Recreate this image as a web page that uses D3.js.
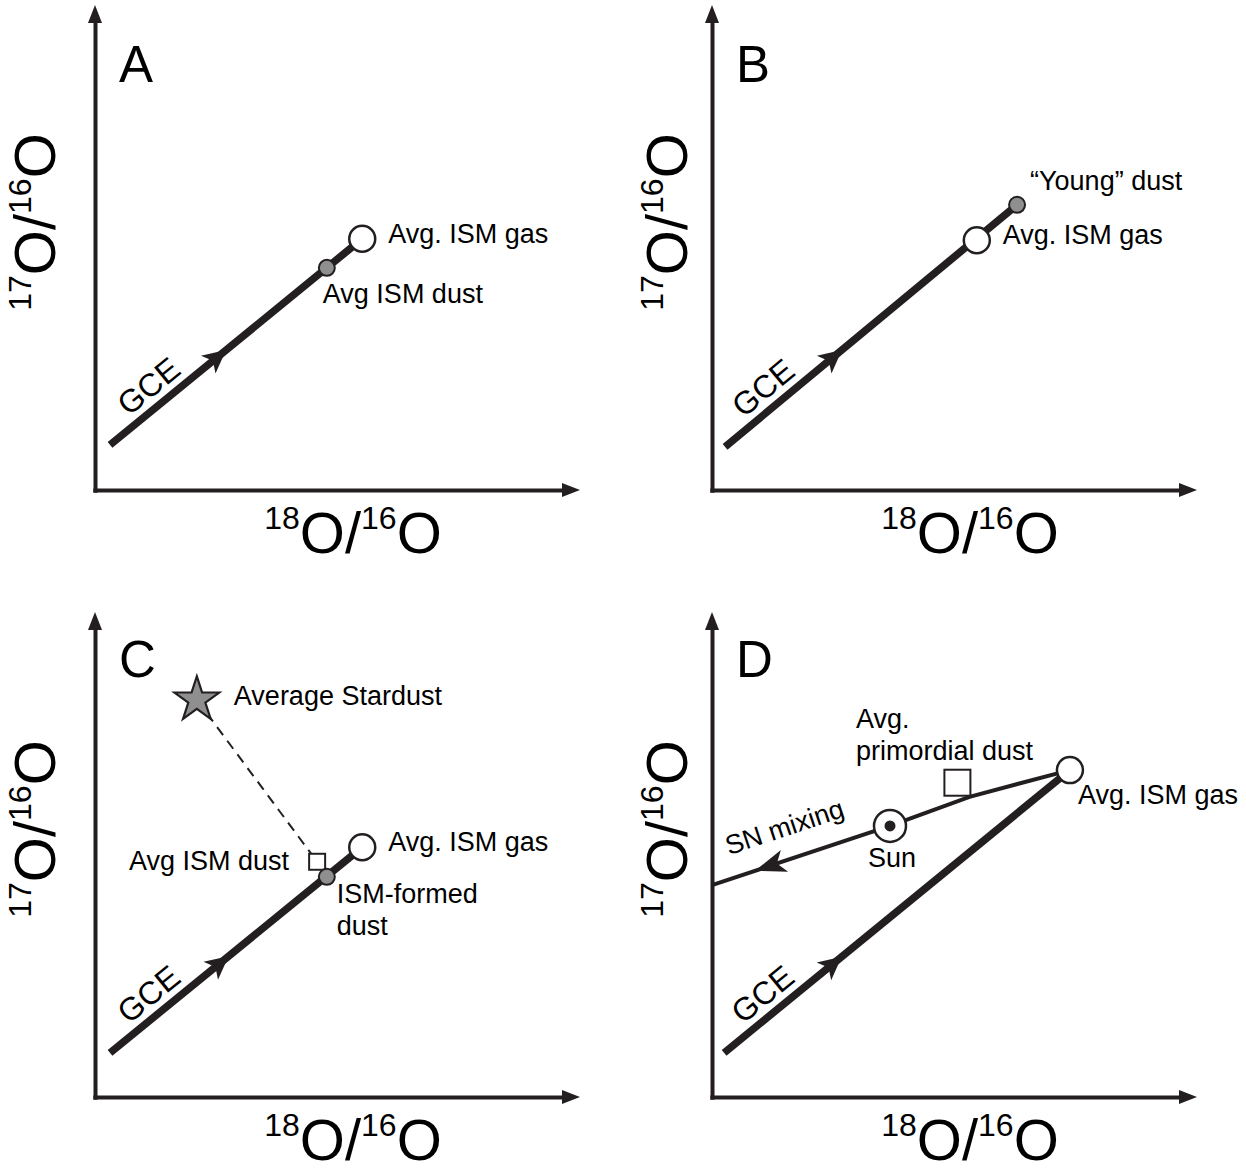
<!DOCTYPE html>
<html><head><meta charset="utf-8">
<script src="https://cdn.jsdelivr.net/npm/d3@7"></script>
<style>
body{margin:0;background:#fff}
svg{display:block}
text{font-family:"Liberation Sans",Arial,Helvetica,sans-serif;fill:#000}
</style>
</head><body>
<svg id="c" width="1246" height="1171"></svg>
<script>
// ---------- data (schematic units, 0..100 on each axis) ----------
const panelLetters = ["A", "B", "C", "D"];
const xTitleParts = ["18", "O/", "16", "O"];
const yTitleParts = ["17", "O/", "16", "O"];

const gceStart = [[3.1, 9.3], [2.7, 8.9], [3.1, 9.1], [2.5, 9.1]];
const gceEnd = [[55.1, 51.8], [62.9, 58.8], [55.1, 51.5], [73.8, 67.4]];
const gceArrowFrac = [0.46, 0.40, 0.47, 0.34];

const ismGas = [[55.1, 51.8], [54.6, 51.5], [55.1, 51.5], [73.8, 67.4]];
const gasLabels = ["Avg. ISM gas", "Avg. ISM gas", "Avg. ISM gas", "Avg. ISM gas"];

const dustPanels = [0, 1, 2];
const dustPoints = [[47.8, 45.8], [62.9, 58.8], [47.8, 45.4]];
const dustLabels = [["Avg ISM dust"], ["\u201cYoung\u201d dust"], ["ISM-formed", "dust"]];

const squarePanels = [2, 3];
const squarePoints = [[45.8, 48.5], [50.6, 64.8]];
const squareLabels = [["Avg ISM dust"], ["Avg.", "primordial dust"]];

const stardust = [21.0, 81.9];
const stardustLabel = "Average Stardust";

const sunPoint = [36.7, 55.9];
const sunLabel = "Sun";
const snMixing = [[73.8, 67.4], [53.1, 61.9], [36.7, 55.9], [0, 43.7]];
const snArrowFrac = 0.758;
const snLabel = "SN mixing";
const gceLabel = "GCE";

// ---------- layout ----------
const origins = [[95, 490], [712, 490], [95, 1097], [712, 1097]];
const yTitleGap = [40, 25, 40, 25];
const ink = "#231f20";
const grey = "#8f8f8f";
const svg = d3.select("#c");

function isoTitle(t, parts) {
  t.append("tspan").attr("font-size", 32).attr("dy", -24).text(parts[0]);
  t.append("tspan").attr("font-size", 58).attr("dy", 24).text(parts[1]);
  t.append("tspan").attr("font-size", 32).attr("dy", -24).text(parts[2]);
  t.append("tspan").attr("font-size", 58).attr("dy", 24).text(parts[3]);
}

function arrowHead(g, tip, ang, len, hw, notch) {
  g.append("path")
    .attr("d", `M0,0 L${-len},${-hw} L${-len + notch},0 L${-len},${hw} Z`)
    .attr("transform", `translate(${tip[0]},${tip[1]}) rotate(${ang * 180 / Math.PI})`)
    .attr("fill", ink);
}

function alongText(g, p0, p1, dist, perp, txt, size) {
  const dx = p1[0] - p0[0], dy = p1[1] - p0[1];
  const L = Math.hypot(dx, dy), ux = dx / L, uy = dy / L;
  const nx = uy, ny = -ux; // left (upper) normal
  const px = p0[0] + ux * dist + nx * perp, py = p0[1] + uy * dist + ny * perp;
  g.append("text")
    .attr("transform", `translate(${px},${py}) rotate(${Math.atan2(dy, dx) * 180 / Math.PI})`)
    .attr("text-anchor", "middle").attr("font-size", size).text(txt);
}

panelLetters.forEach((letter, i) => {
  const [ox, oy] = origins[i];
  const x = d3.scaleLinear().domain([0, 100]).range([ox, ox + 485]);
  const y = d3.scaleLinear().domain([0, 100]).range([oy, oy - 485]);
  const P = d => [x(d[0]), y(d[1])];
  const g = svg.append("g");

  // axes (no ticks), arrowheads at the far ends
  const xa = x.copy().domain([-0.45, 97]).range([x(-0.45), x(97)]);
  const ya = y.copy().domain([-0.45, 97]).range([y(-0.45), y(97)]);
  const gx = g.append("g").attr("transform", `translate(0,${oy})`)
    .call(d3.axisBottom(xa).tickValues([]).tickSizeOuter(0));
  const gy = g.append("g").attr("transform", `translate(${ox},0)`)
    .call(d3.axisLeft(ya).tickValues([]).tickSizeOuter(0));
  [gx, gy].forEach(a => a.select(".domain").attr("stroke", ink).attr("stroke-width", 4));
  arrowHead(g, [x(100), oy], 0, 18, 7, 0);
  arrowHead(g, [ox, y(100)], -Math.PI / 2, 18, 7, 0);

  // panel letter
  g.append("text").attr("x", ox + 24).attr("y", oy - (i < 2 ? 408 : 420))
    .attr("font-size", 51).text(letter);

  // axis titles
  isoTitle(g.append("text").attr("x", ox + 258).attr("y", oy + 63)
    .attr("text-anchor", "middle"), xTitleParts);
  isoTitle(g.append("text").attr("text-anchor", "middle")
    .attr("transform", `translate(${ox - yTitleGap[i]},${oy - 268}) rotate(-90)`), yTitleParts);

  // GCE line
  const s = P(gceStart[i]), e = P(gceEnd[i]);
  g.append("line").attr("x1", s[0]).attr("y1", s[1]).attr("x2", e[0]).attr("y2", e[1])
    .attr("stroke", ink).attr("stroke-width", 7.5);
  const f = gceArrowFrac[i];
  const tip = [s[0] + (e[0] - s[0]) * f, s[1] + (e[1] - s[1]) * f];
  arrowHead(g, tip, Math.atan2(e[1] - s[1], e[0] - s[0]), 23, 11.5, 6);
  alongText(g, s, e, 67, 10, gceLabel, 32);

  // panel C: stardust mixing (dashed)
  if (i === 2) {
    const st = P(stardust), sq = P(squarePoints[0]);
    g.append("line").attr("x1", st[0]).attr("y1", st[1]).attr("x2", sq[0]).attr("y2", sq[1])
      .attr("stroke", ink).attr("stroke-width", 2).attr("stroke-dasharray", "10,7");
    g.append("path").attr("d", d3.symbol(d3.symbolStar, 620)())
      .attr("transform", `translate(${st[0]},${st[1]})`)
      .attr("fill", grey).attr("stroke", ink).attr("stroke-width", 2.2);
    g.append("text").attr("x", st[0] + 37).attr("y", st[1] + 5).attr("font-size", 27).text(stardustLabel);
  }

  // panel D: SN mixing line
  if (i === 3) {
    const pts = snMixing.map(P);
    g.append("path").attr("d", d3.line()(pts)).attr("fill", "none")
      .attr("stroke", ink).attr("stroke-width", 4);
    const a = pts[2], b = pts[3];
    const t = snArrowFrac;
    arrowHead(g, [a[0] + (b[0] - a[0]) * t, a[1] + (b[1] - a[1]) * t],
      Math.atan2(b[1] - a[1], b[0] - a[0]), 31, 11.5, 8);
    alongText(g, b, a, 87, 23, snLabel, 27);
    const su = P(sunPoint);
    g.append("circle").attr("cx", su[0]).attr("cy", su[1]).attr("r", 16)
      .attr("fill", "#fff").attr("stroke", ink).attr("stroke-width", 2.5);
    g.append("circle").attr("cx", su[0]).attr("cy", su[1]).attr("r", 5.5).attr("fill", ink);
    g.append("text").attr("x", su[0] + 2).attr("y", su[1] + 41).attr("text-anchor", "middle")
      .attr("font-size", 27).text(sunLabel);
  }

  // squares
  squarePanels.forEach((pi, k) => {
    if (pi !== i) return;
    const c = P(squarePoints[k]);
    const sz = pi === 2 ? 16 : 26;
    g.append("rect").attr("x", c[0] - sz / 2).attr("y", c[1] - sz / 2).attr("width", sz).attr("height", sz)
      .attr("fill", "#fff").attr("stroke", ink).attr("stroke-width", 2);
    if (pi === 2) {
      g.append("text").attr("x", c[0] - 28).attr("y", c[1] + 8).attr("text-anchor", "end")
        .attr("font-size", 27).text(squareLabels[k][0]);
    } else {
      squareLabels[k].forEach((ln, j) => g.append("text").attr("x", c[0] - 101.5)
        .attr("y", c[1] - 54.5 + j * 32).attr("font-size", 27).text(ln));
    }
  });

  // ISM gas (open circle) and grey dust dots
  const gp = P(ismGas[i]);
  dustPanels.forEach((pi, k) => {
    if (pi !== i) return;
    const c = P(dustPoints[k]);
    g.append("circle").attr("cx", c[0]).attr("cy", c[1]).attr("r", 8)
      .attr("fill", grey).attr("stroke", ink).attr("stroke-width", 2);
    const off = [[-4, 35], [13, -15], [10, 26]][k];
    dustLabels[k].forEach((ln, j) => g.append("text").attr("x", c[0] + off[0])
      .attr("y", c[1] + off[1] + j * 32).attr("font-size", 27).text(ln));
  });
  g.append("circle").attr("cx", gp[0]).attr("cy", gp[1]).attr("r", 13)
    .attr("fill", "#fff").attr("stroke", ink).attr("stroke-width", 2.5);
  const goff = i === 3 ? [8, 34] : [26, 4];
  g.append("text").attr("x", gp[0] + goff[0]).attr("y", gp[1] + goff[1])
    .attr("font-size", 27).text(gasLabels[i]);
});
</script>
</body></html>
